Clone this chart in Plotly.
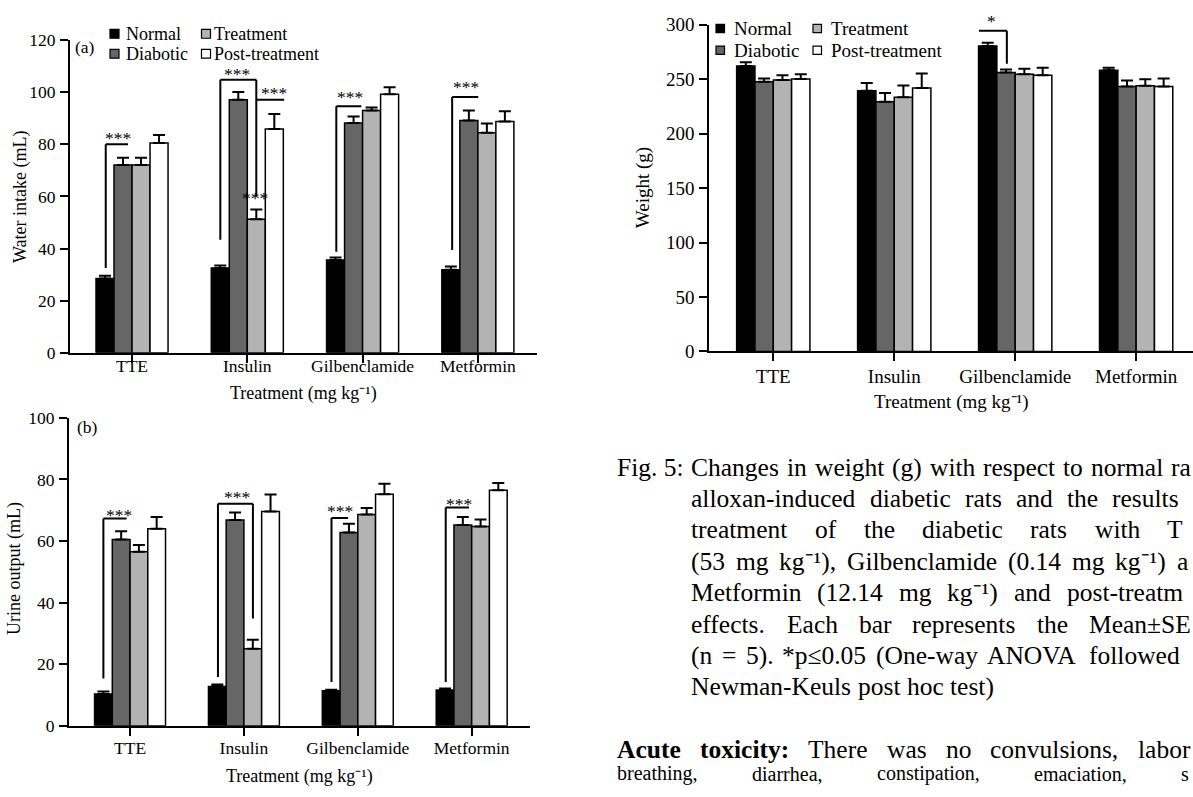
import re
import plotly.graph_objects as go

W, H = 1193, 797
FONT = "Liberation Serif, Times New Roman, serif"

# ---------------- data ----------------
categories = ["TTE", "Insulin", "Gilbenclamide", "Metformin"]
series_names = ["Normal", "Diabotic", "Treatment", "Post-treatment"]
series_colors = ["#000000", "#666666", "#b3b3b3", "#ffffff"]

# (a) Water intake (mL)
water_normal = [28.5, 32.5, 35.6, 31.9]
water_diabetic = [72.1, 97.1, 88.2, 89.2]
water_treatment = [72.1, 51.2, 93.0, 84.5]
water_post = [80.5, 85.9, 99.2, 88.8]
water_normal_sem = [1.1, 1.0, 1.0, 1.2]
water_diabetic_sem = [2.8, 3.0, 2.5, 3.8]
water_treatment_sem = [2.8, 3.8, 1.2, 3.5]
water_post_sem = [3.1, 5.8, 2.7, 3.9]

# (b) Urine output (mL)
urine_normal = [10.3, 12.7, 11.3, 11.6]
urine_diabetic = [60.5, 66.8, 62.8, 65.2]
urine_treatment = [56.5, 25.0, 68.6, 64.7]
urine_post = [64.0, 69.6, 75.2, 76.5]
urine_normal_sem = [0.8, 0.7, 0.4, 0.5]
urine_diabetic_sem = [2.7, 2.5, 2.8, 2.6]
urine_treatment_sem = [2.2, 2.9, 2.1, 2.3]
urine_post_sem = [3.8, 5.5, 3.4, 2.4]

# Weight (g)
weight_normal = [262.0, 239.3, 280.4, 258.0]
weight_diabetic = [247.6, 229.2, 256.0, 243.2]
weight_treatment = [249.1, 233.4, 254.5, 243.8]
weight_post = [250.0, 241.7, 253.6, 243.2]
weight_normal_sem = [3.5, 7.0, 3.0, 2.4]
weight_diabetic_sem = [3.0, 8.0, 2.7, 5.4]
weight_treatment_sem = [4.5, 10.6, 5.0, 6.0]
weight_post_sem = [4.5, 13.4, 6.8, 7.4]

# significance brackets: (polyline [(category index + offset, value)], label, label position)
water_sig = [
    ([(-0.228, 32.5), (-0.228, 80.0), (-0.035, 80.0)], "***", (-0.126, 82.6)),
    ([(0.766, 43.4), (0.766, 104.8), (1.078, 104.8), (1.078, 60.0)], "***", (0.91, 107.0)),
    ([(1.078, 97.1), (1.32, 97.1)], "***", (1.23, 99.8)),
    ([], "***", (1.07, 59.5)),
    ([(1.772, 38.8), (1.772, 94.6), (1.989, 94.6)], "***", (1.892, 98.2)),
    ([(2.777, 39.4), (2.777, 98.2), (3.003, 98.2)], "***", (2.896, 102.0)),
]
urine_sig = [
    ([(-0.234, 15.3), (-0.234, 67.3), (-0.03, 67.3)], "***", (-0.10, 68.6)),
    ([(0.772, 15.8), (0.772, 72.1), (1.079, 72.1), (1.079, 34.8)], "***", (0.94, 74.4)),
    ([(1.769, 14.2), (1.769, 67.5), (1.915, 67.5)], "***", (1.84, 69.6)),
    ([(2.772, 14.2), (2.772, 70.9), (2.976, 70.9)], "***", (2.89, 72.0)),
]
weight_sig = [
    ([(1.70, 294.4), (1.931, 294.4), (1.931, 264.0)], "*", (1.80, 303.0)),
]

UNIT = "mg kg\u207b\u00b9"
xaxis_title = "Treatment (%s)" % UNIT
caption_lines = [
    "Changes in weight (g) with respect to normal rats,",
    "alloxan-induced diabetic rats and the results of",
    "treatment of the diabetic rats with TTE",
    "(53 mg kg\u207b\u00b9), Gilbenclamide (0.14 mg kg\u207b\u00b9) and",
    "Metformin (12.14 mg kg\u207b\u00b9) and post-treatment",
    "effects. Each bar represents the Mean\u00b1SEM",
    "(n = 5). *p\u22640.05 (One-way ANOVA followed by",
    "Newman-Keuls post hoc test)",
]
para_lines = [
    "<b>Acute</b> <b>toxicity:</b> There was no convulsions, labored",
    "breathing, diarrhea, constipation, emaciation, skin",
]

# ---------------- helpers ----------------
def px(x):
    return x / W


def py(y):
    return 1 - y / H


TW = {' ': 250, '!': 333, '(': 333, ')': 333, '*': 500, ',': 250, '-': 333, '.': 250,
      ':': 278, '=': 564, '\u00b1': 564, '\u2264': 549, '\u2212': 564,
      '\u207b': 380, '\u00b9': 300}
for c in '0123456789':
    TW[c] = 500
TW.update(dict(zip('ABCDEFGHIJKLMNOPQRSTUVWXYZ',
                   [722, 667, 667, 722, 611, 556, 722, 722, 333, 389, 722, 611, 889,
                    722, 722, 556, 722, 667, 556, 611, 722, 722, 944, 722, 722, 611])))
TW.update(dict(zip('abcdefghijklmnopqrstuvwxyz',
                   [444, 500, 444, 500, 444, 333, 500, 500, 278, 278, 500, 278, 778,
                    500, 500, 500, 500, 333, 389, 278, 500, 500, 722, 500, 500, 444])))
TWB = dict(TW)
TWB.update({'A': 722, 'c': 444, 'u': 556, 't': 333, 'e': 444, 'o': 500, 'x': 500,
            'i': 278, 'y': 500, ':': 333})


def word_em(word):
    bold = word.startswith('<b>')
    plain = re.sub(r'</?b>', '', word)
    table = TWB if bold else TW
    return sum(table.get(c, 500) for c in plain) / 1000


def fit_word(word, x, fs, limit):
    """Trim a word to the characters that fit before the right edge (as in the page crop)."""
    if x + word_em(word) * fs <= limit:
        return word
    bold = word.startswith('<b>')
    plain = re.sub(r'<[^>]+>', '', word)
    while plain and x + word_em(plain) * fs > limit:
        plain = plain[:-1]
    return ('<b>%s</b>' % plain) if (bold and plain) else plain


fig = go.Figure()

panels = [
    dict(key="", values=[water_normal, water_diabetic, water_treatment, water_post],
         sems=[water_normal_sem, water_diabetic_sem, water_treatment_sem, water_post_sem],
         xdom=(70, 537), ydom=(31, 352), xr=(-0.538, 3.513), yr=(0, 120), dtick=20,
         group=0.625, sig=water_sig, xlabel_y=394, ytitle="Water intake (mL)",
         ytitle_x=21, ytitle_y=192, standoff=-12, fs=17.5, tfs=18),
    dict(key="2", values=[urine_normal, urine_diabetic, urine_treatment, urine_post],
         sems=[urine_normal_sem, urine_diabetic_sem, urine_treatment_sem, urine_post_sem],
         xdom=(69, 530), ydom=(419, 735), xr=(-0.536, 3.512), yr=(0, 100), dtick=20,
         group=0.623, sig=urine_sig, xlabel_y=787, ytitle="Urine output (mL)",
         ytitle_x=15, ytitle_y=574, standoff=-3, fs=17.5, tfs=18),
    dict(key="3", values=[weight_normal, weight_diabetic, weight_treatment, weight_post],
         sems=[weight_normal_sem, weight_diabetic_sem, weight_treatment_sem, weight_post_sem],
         xdom=(709.3, 1193), ydom=(15, 350.7), xr=(-0.529, 3.47), yr=(0, 300), dtick=50,
         group=0.606, sig=weight_sig, xlabel_y=403, ytitle="Weight (g)",
         ytitle_x=643, ytitle_y=183, standoff=-1, fs=19, tfs=19),
]

shapes = []
annotations = []

for p in panels:
    xa, ya = "x" + p["key"], "y" + p["key"]
    G = p["group"]
    w = G / 4
    for i, name in enumerate(series_names):
        fig.add_trace(go.Bar(
            x=categories, y=p["values"][i], name=name,
            xaxis=xa, yaxis=ya, width=w, offset=-G / 2 + i * w,
            marker=dict(color=series_colors[i], line=dict(color="black", width=1.5)),
            error_y=dict(type="data", symmetric=False, array=p["sems"][i],
                         arrayminus=[0] * len(categories), color="black",
                         thickness=2, width=6),
            showlegend=False,
        ))
    axis_common = dict(showline=True, linecolor="black", linewidth=2, ticks="outside",
                       tickcolor="black", tickwidth=2, ticklen=8, showgrid=False,
                       zeroline=False, tickfont=dict(family=FONT, size=p["fs"], color="black"))
    fig.layout["xaxis" + p["key"]] = dict(
        axis_common, domain=[px(p["xdom"][0]), px(p["xdom"][1])], range=list(p["xr"]),
        type="category", categoryorder="array", categoryarray=categories,
        anchor=ya, ticklabelstandoff=p["standoff"], fixedrange=True)
    fig.layout["yaxis" + p["key"]] = dict(
        axis_common, domain=[py(p["ydom"][1]), py(p["ydom"][0])], range=list(p["yr"]),
        dtick=p["dtick"], tick0=0, anchor=xa, ticklabelstandoff=1, fixedrange=True)

    def val_to_paper(v, p=p):
        y0, y1 = p["ydom"]
        lo, hi = p["yr"]
        return py(y1 - (v - lo) / (hi - lo) * (y1 - y0))

    # brackets and stars
    for poly, label, (lx, ly) in p["sig"]:
        for (x0, y0), (x1, y1) in zip(poly[:-1], poly[1:]):
            shapes.append(dict(type="line", xref=xa, yref=ya, x0=x0, y0=y0, x1=x1, y1=y1,
                               line=dict(color="black", width=2)))
        annotations.append(dict(xref=xa, yref="paper", x=lx, y=val_to_paper(ly), text=label,
                                showarrow=False, xanchor="center", yanchor="middle",
                                font=dict(family=FONT, size=17.5, color="black")))
    # axis titles
    xc = (p["xdom"][0] + p["xdom"][1]) / 2
    annotations.append(dict(xref="paper", yref="paper", x=px(xc), y=py(p["xlabel_y"]),
                            text=xaxis_title, showarrow=False,
                            xanchor="center", yanchor="middle",
                            font=dict(family=FONT, size=p["tfs"], color="black")))
    annotations.append(dict(xref="paper", yref="paper", x=px(p["ytitle_x"]),
                            y=py(p["ytitle_y"]), text=p["ytitle"], textangle=-90,
                            showarrow=False, xanchor="center", yanchor="middle",
                            font=dict(family=FONT, size=p["tfs"], color="black")))

# panel letters
annotations.append(dict(xref="paper", yref="paper", x=px(73), y=py(38), text="(a)",
                        showarrow=False, xanchor="left", yanchor="middle",
                        font=dict(family=FONT, size=17.5, color="black")))
annotations.append(dict(xref="paper", yref="paper", x=px(75), y=py(428), text="(b)",
                        showarrow=False, xanchor="left", yanchor="middle",
                        font=dict(family=FONT, size=17.5, color="black")))


# manual legends (2 x 2)
def add_legend(col_x, text_x, row_y, size, fs):
    order = [(0, 0), (1, 0), (0, 1), (1, 1)]  # (row, col) for Normal, Diabotic, Treatment, Post
    for i, (r, c) in enumerate(order):
        x0 = col_x[c]
        yc = row_y[r]
        shapes.append(dict(type="rect", xref="paper", yref="paper",
                           x0=px(x0), x1=px(x0 + size), y0=py(yc + size / 2), y1=py(yc - size / 2),
                           fillcolor=series_colors[i], line=dict(color="black", width=1.2)))
        annotations.append(dict(xref="paper", yref="paper", x=px(text_x[c]), y=py(yc),
                                text=series_names[i], showarrow=False, xanchor="left",
                                yanchor="middle", font=dict(family=FONT, size=fs, color="black")))


add_legend((110, 201.5), (124, 212), (24.5, 45), 9, 18)
add_legend((716, 813), (732, 829), (19, 41.3), 8.5, 19)

# caption (justified text, column wider than the visible crop)
CAP_FS = 25.5
R_EDGE = 1212
LIMIT = 1192
annotations.append(dict(xref="paper", yref="paper", x=px(615), y=py(470), text="Fig. 5:",
                        showarrow=False, xanchor="left", yanchor="middle",
                        font=dict(family=FONT, size=CAP_FS, color="black")))
cap_y = [470, 501.7, 534, 566, 598.3, 630.7, 663.3, 695]


def place_line(text, x0, yc, justify, fs=CAP_FS):
    words = text.split(" ")
    widths = [word_em(wd) * fs for wd in words]
    gap = 0.25 * fs
    if justify and len(words) > 1:
        gap = max(gap, (R_EDGE - x0 - sum(widths)) / (len(words) - 1))
    x = x0
    for wd, wdt in zip(words, widths):
        shown = fit_word(wd, x, fs, LIMIT)
        if shown:
            annotations.append(dict(xref="paper", yref="paper", x=px(x), y=py(yc), text=shown,
                                    showarrow=False, xanchor="left", yanchor="middle",
                                    font=dict(family=FONT, size=fs, color="black")))
        x += wdt + gap


for i, line in enumerate(caption_lines):
    place_line(line, 689.3, cap_y[i], justify=(i < len(caption_lines) - 1))
place_line(para_lines[0], 615, 759, True)
# last (page-cropped) line: kept inside the canvas with a slightly smaller size
place_line(para_lines[1], 615, 784.5, True, fs=20)

fig.update_layout(
    width=W, height=H, margin=dict(l=0, r=0, t=0, b=0),
    paper_bgcolor="white", plot_bgcolor="rgba(0,0,0,0)",
    barmode="overlay", showlegend=False,
    shapes=shapes, annotations=annotations,
    font=dict(family=FONT, color="black"),
)

fig.write_html("out.html", config={"displayModeBar": False},
               post_script="document.body.style.margin='0px';document.body.style.overflow='hidden';")
